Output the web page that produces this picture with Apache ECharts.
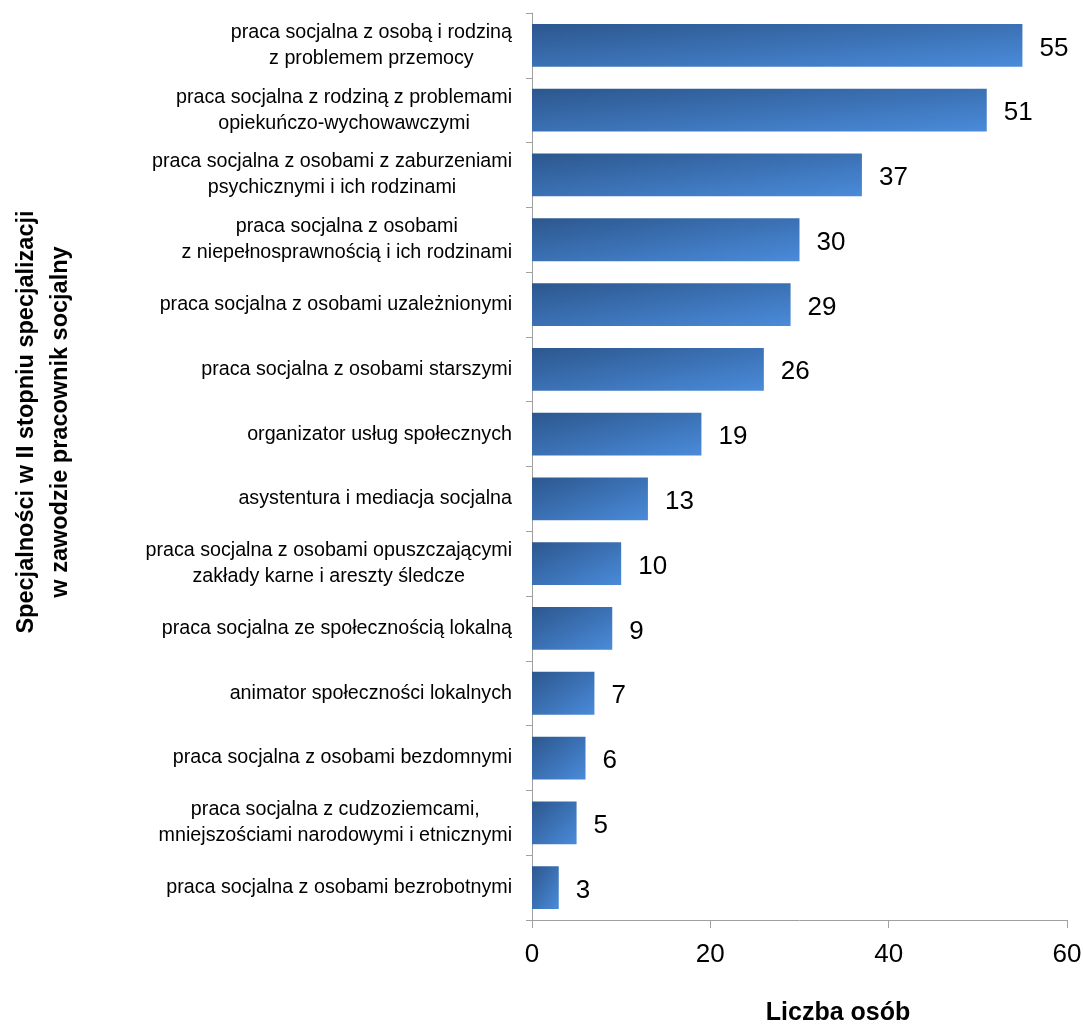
<!DOCTYPE html>
<html>
<head>
<meta charset="utf-8">
<script src="https://cdn.jsdelivr.net/npm/echarts@6/dist/echarts.min.js"></script>
<style>
html,body{margin:0;padding:0;background:#fff;overflow:hidden;}
#c{width:1083px;height:1028px;}
</style>
</head>
<body>
<div id="c"></div>
<script>
const categories = [
  "praca socjalna z osobą i rodziną\nz problemem przemocy",
  "praca socjalna z rodziną z problemami\nopiekuńczo-wychowawczymi",
  "praca socjalna z osobami z zaburzeniami\npsychicznymi i ich rodzinami",
  "praca socjalna z osobami\nz niepełnosprawnością i ich rodzinami",
  "praca socjalna z osobami uzależnionymi",
  "praca socjalna z osobami starszymi",
  "organizator usług społecznych",
  "asystentura i mediacja socjalna",
  "praca socjalna z osobami opuszczającymi\nzakłady karne i areszty śledcze",
  "praca socjalna ze społecznością lokalną",
  "animator społeczności lokalnych",
  "praca socjalna z osobami bezdomnymi",
  "praca socjalna z cudzoziemcami,\nmniejszościami narodowymi i etnicznymi",
  "praca socjalna z osobami bezrobotnymi"
];
const values = [55, 51, 37, 30, 29, 26, 19, 13, 10, 9, 7, 6, 5, 3];
const xTicks = { min: 0, max: 60, interval: 20 };
const xAxisTitle = "Liczba osób";
const yAxisTitle = "Specjalności w II stopniu specjalizacji\nw zawodzie pracownik socjalny";

const FONT = "'Liberation Sans', Arial, sans-serif";
const COL_A = '#2c578e';
const COL_B = '#4a8bda';
const chart = echarts.init(document.getElementById('c'), null, {renderer: 'canvas'});

function baseOption(dataItems) {
  return {
    backgroundColor: '#ffffff',
    animation: false,
    grid: { left: 532, right: 16, top: 13, bottom: 108, containLabel: false, outerBoundsMode: 'none' },
    xAxis: {
      type: 'value',
      min: xTicks.min, max: xTicks.max, interval: xTicks.interval,
      axisLine: { show: true, lineStyle: { color: '#a0a0a0', width: 1 } },
      axisTick: { show: true, inside: false, length: 8, lineStyle: { color: '#a0a0a0' } },
      axisLabel: { fontFamily: FONT, fontSize: 26, color: '#000', margin: 22 },
      splitLine: { show: false }
    },
    yAxis: {
      type: 'category',
      inverse: true,
      data: categories,
      axisLine: { show: true, lineStyle: { color: '#a0a0a0', width: 1 } },
      axisTick: { show: true, length: 6, alignWithLabel: false, lineStyle: { color: '#a0a0a0' } },
      axisLabel: {
        margin: 20,
        align: 'right',
        formatter: function (v) {
          return v.split('\n').map(function (s) { return '{a|' + s + '}'; }).join('\n');
        },
        rich: {
          a: { fontFamily: FONT, fontSize: 19.7, color: '#000', align: 'center', lineHeight: 26 }
        }
      }
    },
    graphic: [{
      type: 'text',
      x: 44, y: 422,
      rotation: Math.PI / 2,
      style: {
        text: yAxisTitle,
        fontFamily: FONT,
        fontWeight: 'bold',
        fontSize: 23.5,
        lineHeight: 34,
        fill: '#000',
        align: 'center',
        verticalAlign: 'middle'
      }
    }, {
      type: 'text',
      x: 838, y: 1013,
      style: {
        text: xAxisTitle,
        fontFamily: FONT,
        fontWeight: 'bold',
        fontSize: 25,
        fill: '#000',
        align: 'center',
        verticalAlign: 'middle'
      }
    }],
    series: [{
      type: 'bar',
      data: dataItems,
      barCategoryGap: '34%',
      itemStyle: { color: COL_B },
      label: {
        show: true,
        position: 'right',
        distance: 17,
        offset: [0, 3],
        fontFamily: FONT,
        fontSize: 26,
        color: '#000'
      }
    }]
  };
}

chart.setOption(baseOption(values.slice()));

// Excel-like gradient: isolines along each bar's diagonal (computed from the bar's pixel size)
const x0 = chart.convertToPixel({ xAxisIndex: 0 }, 0);
const y0 = chart.convertToPixel({ yAxisIndex: 0 }, 0);
const y1 = chart.convertToPixel({ yAxisIndex: 0 }, 1);
const band = Math.abs(y1 - y0);
const H = band * 0.66;
const items = values.map(function (v) {
  const W = Math.max(1, chart.convertToPixel({ xAxisIndex: 0 }, v) - x0);
  const a = 1 / (W * W), b = 1 / (H * H);
  const gx = 2 * a / (a + b), gy = 2 * b / (a + b);
  return {
    value: v,
    itemStyle: {
      color: new echarts.graphic.LinearGradient(0, 0, gx, gy, [
        { offset: 0, color: COL_A },
        { offset: 1, color: COL_B }
      ])
    }
  };
});
chart.setOption(baseOption(items));
</script>
</body>
</html>
